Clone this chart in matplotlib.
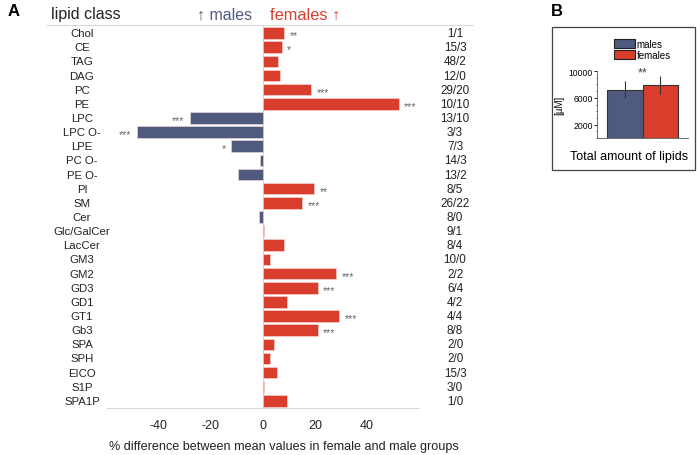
import numpy as np
import matplotlib
matplotlib.use('Agg')
import matplotlib.pyplot as plt
from matplotlib.patches import Rectangle, Patch
from matplotlib.lines import Line2D
from matplotlib.transforms import blended_transform_factory

plt.rcParams['font.family'] = ['Liberation Sans', 'DejaVu Sans']
plt.rcParams['axes.unicode_minus'] = False

# panel A data
lipid_classes = ['Chol', 'CE', 'TAG', 'DAG', 'PC', 'PE', 'LPC', 'LPC O-', 'LPE', 'PC O-',
                 'PE O-', 'PI', 'SM', 'Cer', 'Glc/GalCer', 'LacCer', 'GM3', 'GM2', 'GD3',
                 'GD1', 'GT1', 'Gb3', 'SPA', 'SPH', 'EICO', 'S1P', 'SPA1P']
pct_diff = [8.2, 7.2, 5.6, 6.7, 18.5, 52.2, -28.0, -48.5, -12.3, -1.0,
            -9.7, 19.7, 15.1, -1.5, 0.5, 8.2, 2.8, 28.0, 21.0,
            9.1, 29.4, 21.0, 4.4, 2.6, 5.5, 0.4, 9.4]
signif = ['**', '*', '', '', '***', '***', '***', '***', '*', '',
          '', '**', '***', '', '', '', '', '***', '***',
          '', '***', '***', '', '', '', '', '']
n_species = ['1/1', '15/3', '48/2', '12/0', '29/20', '10/10', '13/10', '3/3', '7/3', '14/3',
             '13/2', '8/5', '26/22', '8/0', '9/1', '8/4', '10/0', '2/2', '6/4',
             '4/2', '4/4', '8/8', '2/0', '2/0', '15/3', '3/0', '1/0']
xticks_a = [-40, -20, 0, 20, 40]

# panel B data
groups = ['males', 'females']
total_means = [7200, 7900]
total_err = [1250, 1300]
total_signif = '**'
yticks_b = [2000, 6000, 10000]

MALE = '#4f5a7e'
FEMALE = '#d93d2c'
GRID = '#d9d9d9'

W, H = 697, 456
fig = plt.figure(figsize=(W / 100, H / 100), dpi=100)


def fx(px):
    return px / W


def fy(py):
    return 1 - py / H


# ---------------- panel A ----------------
ax = fig.add_axes([fx(107), fy(409), fx(419) - fx(107), fy(26) - fy(409)])
ypos = np.arange(len(lipid_classes))
colors = [FEMALE if v >= 0 else MALE for v in pct_diff]
ax.barh(ypos, pct_diff, height=0.82, color=colors, edgecolor='#f6dcd8', linewidth=0.4, zorder=2)
ax.axvline(0, color=GRID, lw=0.8, zorder=1)
ax.set_xlim(-60, 60)
ax.set_ylim(len(lipid_classes) - 0.5, -0.57)
for s in ['top', 'right', 'left']:
    ax.spines[s].set_visible(False)
ax.spines['bottom'].set_color(GRID)
ax.set_yticks([])
ax.set_xticks(xticks_a)
ax.tick_params(axis='x', length=0, labelsize=9, pad=8, colors='#222222')

# significance stars next to the bar ends
for i, (v, s) in enumerate(zip(pct_diff, signif)):
    if s:
        off = 4 if v >= 0 else -4
        ax.annotate(s, (v, i), xytext=(off, -1.5), textcoords='offset points',
                    ha='left' if v >= 0 else 'right', va='center', fontsize=7.5, color='#666666')

tr = blended_transform_factory(fig.transFigure, ax.transData)
for i, (name, n) in enumerate(zip(lipid_classes, n_species)):
    ax.text(fx(82), i, name, transform=tr, ha='center', va='center', fontsize=8.2, color='#222222')
    ax.text(fx(455), i, n, transform=tr, ha='center', va='center', fontsize=8.4, color='#222222')

fig.add_artist(Line2D([fx(47), fx(473)], [fy(26), fy(26)], color=GRID, lw=0.8))
fig.text(fx(51), fy(15), 'lipid class', ha='left', va='center', fontsize=11.5, color='#222222')
fig.text(fx(252), fy(15), '\u2191 males', ha='right', va='center', fontsize=11.5, color=MALE)
fig.text(fx(270), fy(15), 'females \u2191', ha='left', va='center', fontsize=11.8, color=FEMALE)
fig.text(fx(284), fy(447), '% difference between mean values in female and male groups',
         ha='center', va='center', fontsize=9.1, color='#222222')
fig.text(fx(8), fy(12), 'A', ha='left', va='center', fontsize=12, fontweight='bold')

# ---------------- panel B ----------------
fig.add_artist(Rectangle((fx(552), fy(171)), fx(695) - fx(552), fy(28) - fy(171),
                         transform=fig.transFigure, fill=False, edgecolor='#444444', lw=0.9))
fig.text(fx(551), fy(12), 'B', ha='left', va='center', fontsize=12, fontweight='bold')

bx = fig.add_axes([fx(597), fy(139), fx(688) - fx(597), fy(72) - fy(139)])
bx.bar([0, 1], total_means, width=1.0, color=[MALE, FEMALE], edgecolor='#333333', linewidth=0.8,
       yerr=total_err, error_kw=dict(ecolor='#333333', elinewidth=0.8, capsize=0))
bx.set_xlim(-0.78, 1.78)
bx.set_ylim(0, 10000)
for s in ['top', 'right']:
    bx.spines[s].set_visible(False)
bx.spines['left'].set_color('#555555')
bx.spines['bottom'].set_color('#555555')
bx.spines['left'].set_linewidth(0.6)
bx.spines['bottom'].set_linewidth(0.6)
bx.set_xticks([])
bx.set_yticks(yticks_b)
bx.set_yticks(np.arange(0, 10001, 1000), minor=True)
bx.tick_params(axis='y', which='major', length=2, width=0.6, labelsize=6.2, pad=1)
bx.tick_params(axis='y', which='minor', length=1, width=0.5)
bx.set_ylabel('[\u00b5M]', fontsize=7, labelpad=3)
bx.text(0.5, 9800, total_signif, ha='center', va='center', fontsize=9, color='#444444')

handles = [Patch(facecolor=MALE, edgecolor='#222222', lw=0.8),
           Patch(facecolor=FEMALE, edgecolor='#222222', lw=0.8)]
fig.legend(handles, groups, loc='upper left', bbox_to_anchor=(fx(614), fy(40)), frameon=False,
           fontsize=7, handlelength=2.2, handleheight=1.0, handletextpad=0.1,
           labelspacing=0.1, borderpad=0, borderaxespad=0)
fig.text(fx(629), fy(157), 'Total amount of lipids', ha='center', va='center', fontsize=9)

fig.savefig('out.png', dpi=100)
